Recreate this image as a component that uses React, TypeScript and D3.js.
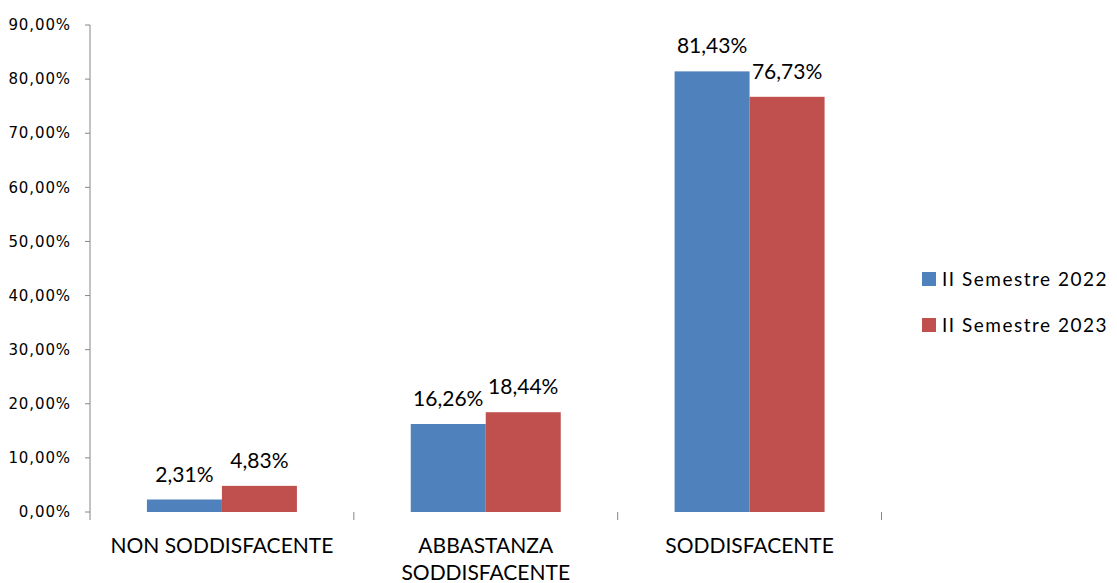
import React from "react";
import * as d3 from "d3";

const categories: string[][] = [["NON SODDISFACENTE"], ["ABBASTANZA", "SODDISFACENTE"], ["SODDISFACENTE"]];
const series = ["II Semestre 2022", "II Semestre 2023"];
const values2022 = [2.31, 16.26, 81.43];
const values2023 = [4.83, 18.44, 76.73];
const yTicks = [0, 10, 20, 30, 40, 50, 60, 70, 80, 90];
const colors = ["#4F81BD", "#C0504D"];

const fmt = (v: number) => v.toFixed(2).replace(".", ",") + "%";

export default function App() {
  const W = 1117, H = 583;
  const x0 = 90, x1 = 881.5, yTop = 25, yBot = 512;
  const x = d3.scaleBand<number>().domain([0, 1, 2]).range([x0, x1]).paddingInner(0).paddingOuter(0);
  const y = d3.scaleLinear().domain([0, 90]).range([yBot, yTop]);
  const bw = 75;
  const data = [values2022, values2023];
  const font = "Lato, 'Open Sans', sans-serif";
  return (
    <svg width={W} height={H} style={{ position: "absolute", left: 0, top: 0, background: "#fff" }}>
      {/* y axis */}
      <line x1={x0} x2={x0} y1={yTop} y2={yBot + 8} stroke="#868686" strokeWidth={1} />
      {yTicks.map((t) => (
        <g key={t}>
          <line x1={x0 - 5} x2={x0} y1={y(t)} y2={y(t)} stroke="#868686" />
          <text x={71} y={y(t)} dy="0.35em" textAnchor="end" fontFamily="'DejaVu Sans', sans-serif" fontSize={15} letterSpacing={0.9} fill="#000">
            {fmt(t)}
          </text>
        </g>
      ))}
      {/* category ticks */}
      {[1, 2, 3].map((i) => (
        <line key={i} x1={x0 + x.bandwidth() * i} x2={x0 + x.bandwidth() * i} y1={yBot} y2={yBot + 8} stroke="#868686" />
      ))}
      {/* bars */}
      {data.map((vals, s) =>
        vals.map((v, i) => {
          const cx = (x(i) as number) + x.bandwidth() / 2;
          const bx = cx - bw + s * bw;
          return (
            <g key={`${s}-${i}`}>
              <rect x={bx} y={y(v)} width={bw} height={yBot - y(v)} fill={colors[s]} />
              <text x={bx + bw / 2} y={y(v) - 18} textAnchor="middle" fontFamily={font} fontSize={21} fill="#000">
                {fmt(v)}
              </text>
            </g>
          );
        })
      )}
      {/* category labels */}
      {categories.map((lines, i) => {
        const cx = (x(i) as number) + x.bandwidth() / 2;
        return (
          <text key={i} x={cx} y={553} textAnchor="middle" fontFamily={font} fontSize={21} fill="#000">
            {lines.map((l, k) => (
              <tspan key={k} x={cx} dy={k === 0 ? 0 : 27}>
                {l}
              </tspan>
            ))}
          </text>
        );
      })}
      {/* legend */}
      {series.map((s, k) => (
        <g key={s}>
          <rect x={922} y={272 + k * 46} width={14} height={14} fill={colors[k]} />
          <text x={942} y={286 + k * 46} fontFamily={font} fontSize={19} letterSpacing={1.5} fill="#000">
            {s}
          </text>
        </g>
      ))}
    </svg>
  );
}
